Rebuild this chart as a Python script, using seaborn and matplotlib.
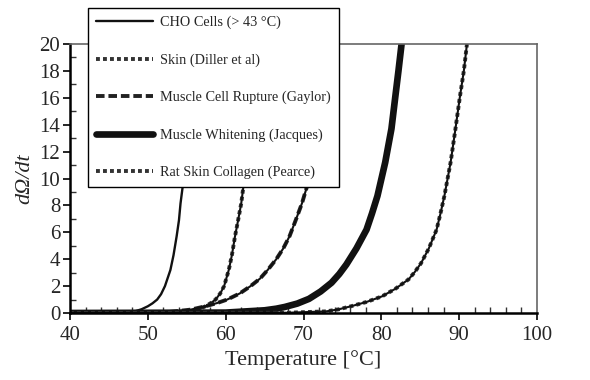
import matplotlib
matplotlib.use("Agg")
import matplotlib.pyplot as plt
from matplotlib.ticker import MultipleLocator
import pandas as pd
import seaborn as sns

# Damage rate dΩ/dt versus temperature for several tissue models
cho_T = [40, 46, 48.2, 49.2, 50.0, 50.6, 51.2, 51.7, 52.2, 52.9, 53.3, 53.7, 54.0, 54.2, 54.5, 54.9, 55.4]
cho_v = [0, 0.02, 0.1, 0.28, 0.5, 0.72, 1.0, 1.4, 2.0, 3.2, 4.3, 5.7, 6.9, 8.15, 9.5, 13.5, 20]

skin_T = [40, 52, 55.5, 56.6, 57.4, 58.1, 58.7, 59.3, 59.8, 60.4, 60.8, 61.2, 61.6, 62.0, 62.3, 62.9, 63.5]
skin_v = [0, 0.01, 0.12, 0.28, 0.5, 0.74, 1.0, 1.45, 2.0, 3.2, 4.3, 5.7, 6.9, 8.15, 9.5, 14.0, 20]

rupture_T = [40, 52, 55.5, 57.4, 58.9, 60.2, 61.8, 63.2, 64.4, 65.4, 66.5, 67.4, 68.2, 69.0, 69.8, 70.5, 71.7, 72.8]
rupture_v = [0, 0.03, 0.25, 0.5, 0.74, 1.0, 1.45, 2.0, 2.55, 3.2, 4.0, 4.8, 5.7, 6.9, 8.15, 9.5, 14, 20]

whitening_T = [40, 60, 65, 66.5, 67.6, 69.2, 70.7, 72.2, 73.6, 74.6, 75.5, 76.8, 78.1, 78.8, 79.5, 80.5, 81.3, 81.8, 82.2, 82.6]
whitening_v = [0, 0.03, 0.2, 0.32, 0.45, 0.7, 1.05, 1.6, 2.25, 2.9, 3.6, 4.8, 6.2, 7.4, 8.7, 11.2, 13.7, 16.1, 18, 20]

collagen_T = [40, 68, 72.9, 74.5, 76.1, 78.1, 80.1, 81.8, 83.5, 84.3, 85.1, 86.1, 87.1, 87.6, 88.1, 88.9, 89.5, 90.1, 90.6, 91.0]
collagen_v = [0, 0.02, 0.12, 0.27, 0.5, 0.82, 1.24, 1.8, 2.5, 3.05, 3.7, 4.8, 6.2, 7.4, 8.7, 11.2, 13.6, 16.1, 18, 20]

labels = ["CHO Cells (> 43 °C)", "Skin (Diller et al)", "Muscle Cell Rupture (Gaylor)",
          "Muscle Whitening (Jacques)", "Rat Skin Collagen (Pearce)"]

x_ticks = [40, 50, 60, 70, 80, 90, 100]
y_ticks = [0, 2, 4, 6, 8, 10, 12, 14, 16, 18, 20]

sns.set_style("white")
plt.rcParams["font.family"] = ["Liberation Serif", "DejaVu Serif"]

fig = plt.figure(figsize=(5.9, 3.8), dpi=100)
ax = fig.add_axes([70 / 590, 1 - 313 / 380, 467 / 590, 269 / 380])


def frame(T, v):
    return pd.DataFrame({"T": T, "v": v})


ink = "#111111"

# CHO cells: thin solid line
sns.lineplot(data=frame(cho_T, cho_v), x="T", y="v", ax=ax, color=ink, lw=1.7,
             label=labels[0])

# Skin: dotted trace over a solid one
sns.lineplot(data=frame(skin_T, skin_v), x="T", y="v", ax=ax, color="#333333", lw=2.8,
             linestyle=(0, (1, 0.8)), label=labels[1])
sns.lineplot(data=frame(skin_T, skin_v), x="T", y="v", ax=ax, color=ink, lw=1.5)

# Muscle cell rupture: dashed trace over a solid one
sns.lineplot(data=frame(rupture_T, rupture_v), x="T", y="v", ax=ax, color="#222222", lw=2.8,
             linestyle=(0, (2.2, 1.0)), label=labels[2])
sns.lineplot(data=frame(rupture_T, rupture_v), x="T", y="v", ax=ax, color=ink, lw=1.5)

# Muscle whitening: heavy solid line
sns.lineplot(data=frame(whitening_T, whitening_v), x="T", y="v", ax=ax, color=ink, lw=4.8,
             label=labels[3], solid_capstyle="round")

# Rat skin collagen: dotted trace over a solid one
sns.lineplot(data=frame(collagen_T, collagen_v), x="T", y="v", ax=ax, color="#333333", lw=2.8,
             linestyle=(0, (1, 0.8)), label=labels[4])
sns.lineplot(data=frame(collagen_T, collagen_v), x="T", y="v", ax=ax, color=ink, lw=1.5)

ax.set_xlim(40, 100)
ax.set_ylim(0, 20)
ax.set_xticks(x_ticks)
ax.set_yticks(y_ticks)
ax.xaxis.set_minor_locator(MultipleLocator(2))
ax.yaxis.set_minor_locator(MultipleLocator(1))
ax.tick_params(axis="both", which="major", direction="out", length=5, width=1.2,
               color="black", labelsize=15, pad=2)
ax.tick_params(axis="x", which="major", pad=4)
ax.tick_params(axis="both", which="minor", direction="in", length=4, width=1.0, color="#333333")
ax.tick_params(bottom=True, left=True, top=False, right=False, which="both")

for side in ("left", "bottom"):
    ax.spines[side].set_color("black")
    ax.spines[side].set_linewidth(1.8)
for side in ("top", "right"):
    ax.spines[side].set_color("#666666")
    ax.spines[side].set_linewidth(1.2)

ax.set_xlabel("Temperature [°C]", fontsize=16, labelpad=4)
ax.set_ylabel("dΩ/dt", fontsize=16, style="italic", labelpad=4)

leg = ax.legend(loc="upper left", bbox_to_anchor=(88 / 590, 1 - 8 / 380),
                bbox_transform=fig.transFigure, borderaxespad=0, fontsize=10.3,
                handlelength=4.0, labelspacing=1.68, handletextpad=0.5, borderpad=0.55,
                fancybox=False, framealpha=1, edgecolor="black")
leg.get_frame().set_linewidth(1.0)
leg.set_zorder(5)

fig.savefig("out.png", dpi=100)
